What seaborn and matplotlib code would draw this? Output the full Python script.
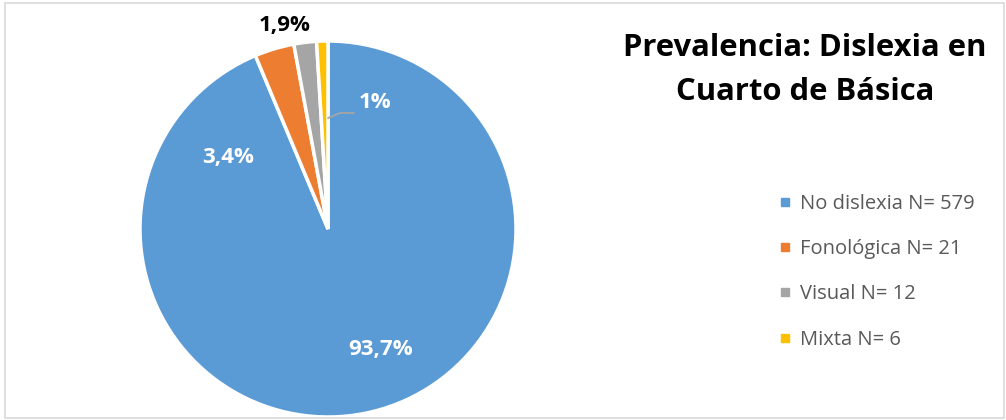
import matplotlib
matplotlib.use("Agg")
import matplotlib.pyplot as plt
from matplotlib.patches import Rectangle
from matplotlib.lines import Line2D
import seaborn as sns

# Data
categories = ["No dislexia", "Fonológica", "Visual", "Mixta"]
counts = [579, 21, 12, 6]
pct_labels = ["93,7%", "3,4%", "1,9%", "1%"]
colors = ["#5B9BD5", "#ED7D31", "#A5A5A5", "#FFC000"]
title = "Prevalencia: Dislexia en\nCuarto de Básica"

sns.set_theme(style="white")
plt.rcParams["font.family"] = ["Open Sans", "DejaVu Sans"]

W, H = 1006, 420
fig = plt.figure(figsize=(W / 100, H / 100), dpi=100)
fig.patch.set_facecolor("white")

# outer chart frame
fig.add_artist(Rectangle((5 / W, 2 / H), 999 / W, 415 / H, transform=fig.transFigure,
                         fill=False, edgecolor="#D9D9D9", linewidth=1.2))

# pie axes: centre (328, 229) px, radius 188 px
cx, cy, R = 328, 229, 188
ax = fig.add_axes([(cx - R) / W, (H - cy - R) / H, 2 * R / W, 2 * R / H])
wedges, _ = ax.pie(counts, colors=colors, startangle=90, counterclock=False,
                   radius=1.0, wedgeprops=dict(edgecolor="white", linewidth=2.5))
ax.set_xlim(-1, 1)
ax.set_ylim(-1, 1)
ax.axis("off")


def px(x, y):
    """pixel position -> pie data coordinates"""
    return (x - cx) / R, (cy - y) / R


lab_font = dict(fontsize=16, fontweight="bold", ha="center", va="center")
ax.text(*px(381, 350), pct_labels[0], color="white", **lab_font)
ax.text(*px(228, 157), pct_labels[1], color="white", **lab_font)
ax.text(*px(285, 26), pct_labels[2], color="black", clip_on=False, **lab_font)
ax.text(*px(375, 103), pct_labels[3], color="white", **lab_font)
# leader line for the smallest slice
lx, ly = zip(px(328, 118), px(340, 113), px(354, 113))
ax.plot(lx, ly, color="#A5A5A5", linewidth=1.3)

# title
fig.text(805 / W, 1 - 70 / H, title, ha="center", va="center", fontsize=22.3,
         fontweight="bold", color="black", linespacing=1.58)

# legend with small square markers
handles = [Line2D([], [], linestyle="none", marker="s", markersize=6.3,
                  markerfacecolor=c, markeredgecolor=c) for c in colors]
leg_labels = [f"{c} N= {n}" for c, n in zip(categories, counts)]
fig.legend(handles, leg_labels, loc="upper left", bbox_to_anchor=(768 / W, 1 - 184 / H),
           frameon=False, fontsize=14.5, labelcolor="#595959", handlelength=0.7,
           handletextpad=0.4, labelspacing=1.25, borderpad=0)

fig.savefig("out.png", dpi=100, facecolor="white")
